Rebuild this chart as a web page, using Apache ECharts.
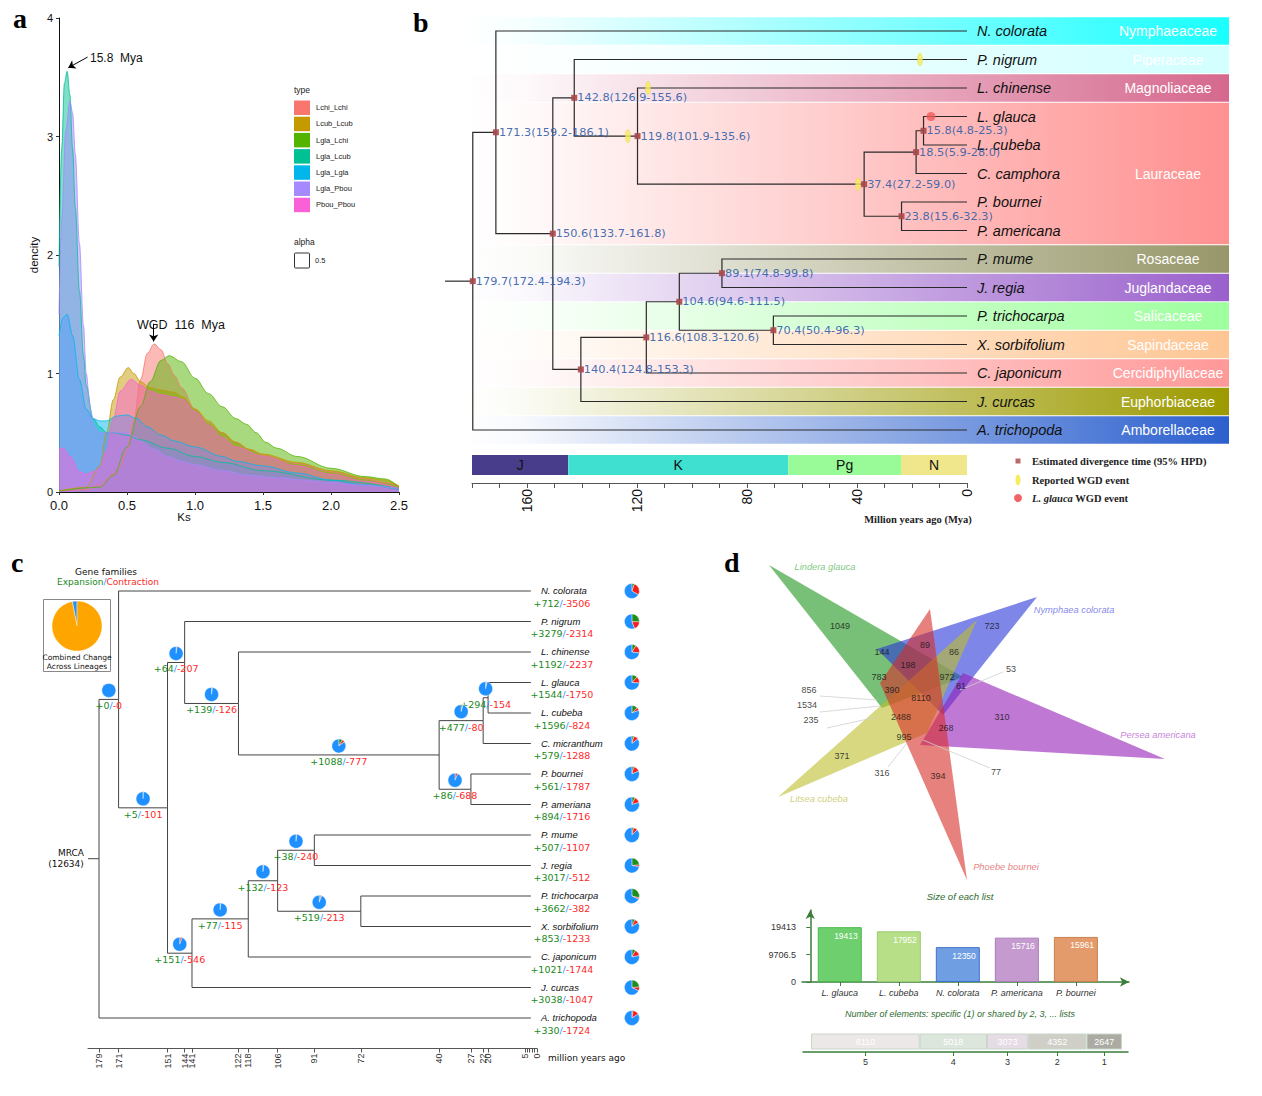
<!DOCTYPE html>
<html><head><meta charset="utf-8">
<script src="https://cdn.jsdelivr.net/npm/echarts@6/dist/echarts.min.js"></script>
<style>html,body{margin:0;padding:0;background:#fff}#main{width:1262px;height:1096px}</style>
</head><body><div id="main"></div>
<script>
// ================= DATA =================
// ---- Panel a : Ks density ----
const ksTypes = ['Lchi_Lchi','Lcub_Lcub','Lgla_Lchi','Lgla_Lcub','Lgla_Lgla','Lgla_Pbou','Pbou_Pbou'];
const ksColors = ['#F8766D','#C49A00','#53B400','#00C094','#00B6EB','#A58AFF','#FB61D7'];
const ksLchiLchi = [[0,0.01],[0.2,0.02],[0.3,0.06],[0.4,0.15],[0.45,0.22],[0.5,0.35],[0.55,0.6],[0.6,0.95],[0.65,1.17],[0.7,1.25],[0.75,1.2],[0.8,1.08],[0.85,0.98],[0.9,0.88],[1.0,0.7],[1.1,0.58],[1.2,0.5],[1.3,0.42],[1.4,0.36],[1.5,0.31],[1.75,0.24],[2.0,0.17],[2.25,0.11],[2.4,0.08],[2.5,0.05]];
const ksLcubLcub = [[0,0.01],[0.2,0.04],[0.3,0.22],[0.35,0.5],[0.4,0.78],[0.45,0.97],[0.51,1.05],[0.55,1.0],[0.6,0.93],[0.67,0.88],[0.75,0.86],[0.85,0.84],[0.91,0.8],[1.0,0.7],[1.1,0.6],[1.2,0.5],[1.3,0.42],[1.4,0.36],[1.5,0.32],[1.75,0.25],[2.0,0.18],[2.25,0.12],[2.4,0.1],[2.5,0.05]];
const ksLglaLchi = [[0,0.01],[0.3,0.04],[0.4,0.14],[0.5,0.38],[0.6,0.72],[0.67,0.93],[0.75,1.11],[0.81,1.15],[0.9,1.1],[1.0,0.96],[1.1,0.83],[1.2,0.72],[1.3,0.62],[1.38,0.57],[1.45,0.5],[1.52,0.42],[1.6,0.37],[1.75,0.3],[2.0,0.2],[2.25,0.13],[2.4,0.11],[2.5,0.04]];
const ksLglaLcub = [[0,1.9],[0.02,2.9],[0.04,3.45],[0.06,3.55],[0.08,3.35],[0.1,2.9],[0.12,2.4],[0.15,1.7],[0.18,1.15],[0.2,0.9],[0.25,0.62],[0.3,0.55],[0.35,0.5],[0.4,0.5],[0.5,0.48],[0.6,0.44],[0.8,0.37],[1.0,0.3],[1.2,0.25],[1.5,0.18],[2.0,0.1],[2.5,0.03]];
const ksLglaLgla = [[0,1.32],[0.03,1.47],[0.06,1.5],[0.1,1.32],[0.15,0.95],[0.2,0.7],[0.25,0.62],[0.3,0.6],[0.35,0.6],[0.42,0.64],[0.5,0.65],[0.57,0.62],[0.65,0.55],[0.75,0.48],[0.85,0.43],[1.0,0.38],[1.2,0.3],[1.3,0.26],[1.5,0.22],[1.75,0.16],[2.0,0.1],[2.25,0.06],[2.5,0.02]];
const ksLglaPbou = [[0,1.5],[0.02,2.3],[0.05,3.05],[0.08,3.3],[0.1,3.2],[0.12,2.85],[0.15,2.1],[0.18,1.4],[0.2,1.0],[0.23,0.7],[0.26,0.55],[0.3,0.5],[0.35,0.5],[0.4,0.5],[0.48,0.5],[0.55,0.47],[0.6,0.43],[0.7,0.36],[0.8,0.3],[0.9,0.26],[1.0,0.23],[1.2,0.18],[1.4,0.14],[1.6,0.12],[1.8,0.1],[2.0,0.08],[2.2,0.06],[2.5,0.03]];
const ksPbouPbou = [[0,0.36],[0.03,0.37],[0.08,0.3],[0.15,0.17],[0.2,0.15],[0.25,0.17],[0.3,0.2],[0.35,0.35],[0.4,0.62],[0.45,0.85],[0.53,0.95],[0.6,0.9],[0.67,0.85],[0.75,0.82],[0.85,0.8],[0.91,0.78],[1.0,0.68],[1.1,0.56],[1.2,0.46],[1.3,0.38],[1.5,0.3],[1.75,0.22],[2.0,0.15],[2.25,0.09],[2.5,0.03]];

// ---- Panel b : dated tree ----
const tipsB = ['N. colorata','P. nigrum','L. chinense','L. glauca','L. cubeba','C. camphora','P. bournei','P. americana','P. mume','J. regia','P. trichocarpa','X. sorbifolium','C. japonicum','J. curcas','A. trichopoda'];
const familiesB = ['Nymphaeaceae','Piperaceae','Magnoliaceae','Lauraceae','Rosaceae','Juglandaceae','Salicaceae','Sapindaceae','Cercidiphyllaceae','Euphorbiaceae','Amborellaceae'];
const familyFirstTipB = [0,1,2,3,8,9,10,11,12,13,14];
const familyLastTipB  = [0,1,2,7,8,9,10,11,12,13,14];
const familyColorsB = ['#19FFFF','#D2FFFF','#D6688E','#FF9090','#97976A','#9A60CC','#9EFF9E','#FFC694','#FF9898','#9C9A00','#2C60CE'];
const nodeNamesB = ['n1','n2','n3','n4','n5','n6','n7','n8','n9','n10','n11','n12','n13','root'];
const nodeAgesB = [15.8,18.5,23.8,37.4,119.8,142.8,89.1,70.4,104.6,116.6,140.4,150.6,171.3,179.7];
const nodeLowB  = ['4.8','5.9','15.6','27.2','101.9','126.9','74.8','50.4','94.6','108.3','124.8','133.7','159.2','172.4'];
const nodeHighB = ['25.3','28.0','32.3','59.0','135.6','155.6','99.8','96.3','111.5','120.6','153.3','161.8','186.1','194.3'];
const nodeChildrenB = [['L. glauca','L. cubeba'],['n1','C. camphora'],['P. bournei','P. americana'],['n2','n3'],['L. chinense','n4'],['P. nigrum','n5'],['P. mume','J. regia'],['P. trichocarpa','X. sorbifolium'],['n7','n8'],['n9','C. japonicum'],['n10','J. curcas'],['n6','n11'],['N. colorata','n12'],['n13','A. trichopoda']];
const tipAgeB = 0;
const rootStemAgeB = 189.8;
const wgdAgesB = [17.1, 116, 123.3, 39.6];
const wgdBranchB = ['P. nigrum','L. chinense','n5','n4'];
const glaucaWgdAgeB = 13.1;
const glaucaWgdBranchB = 'L. glauca';
const geoPeriods = ['J','K','Pg','N'];
const geoStart = [180,145,65,24];
const geoEnd = [145,65,24,0];
const geoColors = ['#483D8B','#40E0D0','#98FB98','#F0E68C'];
const bandLeftAgeB = 183.27, bandRightAgeB = -95.27;

// ---- Panel c : gene family expansion/contraction ----
const tipsC = ['N. colorata','P. nigrum','L. chinense','L. glauca','L. cubeba','C. micranthum','P. bournei','P. ameriana','P. mume','J. regia','P. trichocarpa','X. sorbifolium','C. japonicum','J. curcas','A. trichopoda'];
const tipExpC = [712,3279,1192,1544,1596,579,561,894,507,3017,3662,853,1021,3038,330];
const tipConC = [3506,2314,2237,1750,824,1288,1787,1716,1107,512,382,1233,1744,1047,1724];
const nodeNamesC = ['c20','c22','c27','c40','c122','c144','c91','c72','c106','c118','c141','c151','c171','root'];
const nodeAgesC = [20,22,27,40,122,144,91,72,106,118,141,151,171,179];
const nodeExpC = [294,477,86,1088,139,64,38,519,132,77,151,5,0,0];
const nodeConC = [154,80,688,777,126,207,240,213,123,115,546,101,0,0];
const nodeChildrenC = [['L. glauca','L. cubeba'],['c20','C. micranthum'],['P. bournei','P. ameriana'],['c22','c27'],['L. chinense','c40'],['P. nigrum','c122'],['P. mume','J. regia'],['P. trichocarpa','X. sorbifolium'],['c91','c72'],['c106','C. japonicum'],['c118','J. curcas'],['c144','c141'],['N. colorata','c151'],['c171','A. trichopoda']];
const mrcaFamiliesC = 12634;
const tipAgeC = 2.5;
const mrcaStubAgeC = 183.5;
const timeTicksC = [179,171,151,144,141,122,118,106,91,72,40,27,22,20,5,4,3,2,1,0];
const timeLabelsC = [179,171,151,144,141,122,118,106,91,72,40,27,22,20,5,0];
const combinedChangeNames = ['Changed','Unchanged'];
const combinedChangeValues = [3, 97];

// ---- Panel d : Venn + list sizes ----
const vennSets = ['Lindera glauca','Nymphaea colorata','Persea americana','Litsea cubeba','Phoebe bournei'];
const vennColors = ['rgb(30,150,30)','rgb(40,55,215)','rgb(150,30,185)','rgb(190,190,45)','rgb(215,45,40)'];
const vennLabelColors = ['#5DB85D','#6468E6','#B560D0','#C4C45A','#E06060'];
const vennTriX = [[39,233,152],[307,147,213],[435,233,190],[48,247,197],[200,237,150]];
const vennTriY = [[15,127,158],[47,99,165],[209,123,195],[247,70,183],[59,330,133]];
const vennLabelX = [95,344,428,89,276];
const vennLabelY = [17,60,185,249,317];
const vennCounts = [1049,723,144,89,86,198,783,972,53,81,856,390,8110,1534,310,2488,235,268,995,371,316,394,77];
const vennCountX = [110,262,152,195,224,178,149,217,281,231,79,162,191,77,272,171,81,216,174,112,152,208,266];
const vennCountY = [76,76,102,95,102,115,127,127,119,136,140,140,148,155,167,167,170,178,187,206,223,226,222];
const vennLeaderX1 = [90,90,97,273,158,260];
const vennLeaderY1 = [146,162,178,122,217,218];
const vennLeaderX2 = [147,150,147,230,177,193];
const vennLeaderY2 = [150,156,167,140,193,190];
const listNames = ['L. glauca','L. cubeba','N. colorata','P. americana','P. bournei'];
const listSizes = [19413,17952,12350,15716,15961];
const listColors = ['#6DCF6D','#B6DF88','#6F9FE2','#C59BCF','#E39B6B'];
const listBorders = ['#4CB84C','#9CCB70','#3F70D0','#A97DB8','#C8804F'];
const sizeTicks = [0,9706.5,19413];
const sharedLabels = [5,4,3,2,1];
const sharedCounts = [8110,5018,3073,4352,2647];
const sharedColors = ['#ECE8E8','#DCE6DC','#E6DCE6','#CFCFC8','#ABABA3'];

// ================= HELPERS =================
function hexA(hex,a){const n=parseInt(hex.slice(1),16);return `rgba(${(n>>16)&255},${(n>>8)&255},${n&255},${a})`;}
function buildTree(tips, names, ages, children, tipAge){
  const info = {};
  tips.forEach((t,i)=>{ info[t] = {age:tipAge, row:i}; });
  names.forEach((n,i)=>{ info[n] = {age:ages[i], children:children[i], idx:i}; });
  function row(n){ const o=info[n]; if(o.row!==undefined) return o.row; o.row=(row(o.children[0])+row(o.children[1]))/2; return o.row; }
  names.forEach(row);
  const edges=[];
  names.forEach(n=>info[n].children.forEach(c=>{ info[c].parent=n; edges.push([info[n].age,info[n].row,info[c].age,info[c].row]); }));
  return {info, edges};
}
const TB = buildTree(tipsB, nodeNamesB, nodeAgesB, nodeChildrenB, tipAgeB);
const TC = buildTree(tipsC, nodeNamesC, nodeAgesC, nodeChildrenC, tipAgeC);
const rootB = TB.info['root'], rootC = TC.info['root'];
const edgesB = TB.edges.concat([[rootStemAgeB, rootB.row, rootB.age, rootB.row]]);
const edgesC = TC.edges.concat([[mrcaStubAgeC, rootC.row, rootC.age, rootC.row]]);

function pieParts(cx, cy, r, e, c, total){
  const parts=[[e,'#1E8C1E'],[c,'#F41E1E'],[total-e-c,'#1E90FF']];
  let a=-Math.PI/2; const out=[];
  parts.forEach(([v,col])=>{ if(v<=0) return; const a2=a+2*Math.PI*v/total;
    out.push({type:'sector', shape:{cx,cy,r0:0,r,startAngle:a,endAngle:a2,clockwise:true}, style:{fill:col, stroke:'#fff', lineWidth:0.4}}); a=a2; });
  return out;
}
const richGR = {g:{fill:'#1A8A1A', fontSize:9.5, fontFamily:'DejaVu Sans'}, s:{fill:'#3399FF', fontSize:9.5, fontFamily:'DejaVu Sans'}, r:{fill:'#FF2A2A', fontSize:9.5, fontFamily:'DejaVu Sans'}};
function treeLines(xi, yi, edges, color, width){
  return {type:'custom', xAxisIndex:xi, yAxisIndex:yi, clip:false, silent:true, z:3, data:edges,
    renderItem(params, api){
      const pa=api.value(0), pr=api.value(1), ca=api.value(2), cr=api.value(3);
      const p1=api.coord([pa,pr]), p2=api.coord([pa,cr]), p3=api.coord([ca,cr]);
      return {type:'polyline', shape:{points:[p1,p2,p3]}, style:{stroke:color, lineWidth:width, fill:null}};
    }};
}
const ellipsePath = 'path://M50,0 A50,50 0 1,1 50,100 A50,50 0 1,1 50,0 Z';
const sharedCenters = []; { let acc=0; sharedCounts.forEach(v=>{ sharedCenters.push(acc+v/2); acc+=v; }); }

// ================= OPTION =================
const ksData = [ksLchiLchi, ksLcubLcub, ksLglaLchi, ksLglaLcub, ksLglaLgla, ksLglaPbou, ksPbouPbou];
const series = [];
ksData.forEach((d,i)=>{
  const s = {name:ksTypes[i], type:'line', xAxisIndex:0, yAxisIndex:0, data:d, smooth:0.35, smoothMonotone:'x',
    showSymbol:false, symbol:'none', lineStyle:{color:ksColors[i], width:0.8}, itemStyle:{color:ksColors[i]},
    areaStyle:{color:ksColors[i], opacity:0.5}, z:2, silent:true};
  if(i===ksData.length-1){
    s.markLine = {silent:true, symbol:['none','arrow'], symbolSize:7, label:{show:false},
      lineStyle:{color:'#000', width:1, type:'solid'},
      data:[[{coord:[0.21,3.67]},{coord:[0.068,3.58]}],[{coord:[0.696,1.42]},{coord:[0.696,1.27]}]]};
  }
  series.push(s);
});
// b: family bands
series.push({type:'custom', xAxisIndex:1, yAxisIndex:1, clip:false, silent:true, z:1,
  data: familiesB.map((f,i)=>[tipAgeB, familyFirstTipB[i]]),
  renderItem(params, api){
    const i=params.dataIndex;
    const tl=api.coord([bandLeftAgeB, familyFirstTipB[i]-0.5]);
    const br=api.coord([bandRightAgeB, familyLastTipB[i]+0.5]);
    const col=familyColorsB[i];
    return {type:'group', children:[
      {type:'rect', shape:{x:tl[0], y:tl[1]+0.5, width:br[0]-tl[0], height:br[1]-tl[1]-1},
        style:{fill:new echarts.graphic.LinearGradient(0,0,1,0,[{offset:0,color:hexA(col,0)},{offset:0.08,color:hexA(col,0.04)},{offset:1,color:hexA(col,1)}])}},
      {type:'text', x:br[0]-61, y:(tl[1]+br[1])/2, style:{text:familiesB[i], fill:'#fff', fontSize:14, fontFamily:'Liberation Sans', align:'center', verticalAlign:'middle'}}
    ]};
  }});
// b: tree
series.push(treeLines(1,1,edgesB,'#2a2a2a',1.2));
// b: tip names
series.push({type:'custom', xAxisIndex:1, yAxisIndex:1, clip:false, silent:true, z:4,
  data: tipsB.map((t,i)=>[tipAgeB,i]),
  renderItem(params, api){
    const p=api.coord([api.value(0), api.value(1)]);
    return {type:'text', x:p[0]+10, y:p[1], style:{text:tipsB[params.dataIndex], fill:'#111', fontSize:14.5, fontStyle:'italic', fontFamily:'Liberation Sans', align:'left', verticalAlign:'middle'}};
  }});
// b: node markers + labels
series.push({type:'scatter', xAxisIndex:1, yAxisIndex:1, z:5, silent:true, symbol:'rect', symbolSize:6,
  itemStyle:{color:'#A8484C', opacity:0.9},
  data: nodeNamesB.map(n=>[TB.info[n].age, TB.info[n].row]),
  label:{show:true, position:'right', distance:0, color:'#2F5DA8', fontSize:11.3, fontFamily:'DejaVu Sans',
    formatter:p=>`${nodeAgesB[p.dataIndex].toFixed(1)}(${nodeLowB[p.dataIndex]}-${nodeHighB[p.dataIndex]})`}});
// b: WGD events
series.push({type:'scatter', xAxisIndex:1, yAxisIndex:1, z:6, silent:true, symbol:ellipsePath, symbolSize:[5,13],
  itemStyle:{color:'#F6EC5C', borderColor:'#E2D44A', borderWidth:0.5},
  data: wgdAgesB.map((a,i)=>[a, TB.info[wgdBranchB[i]].row])});
series.push({type:'scatter', xAxisIndex:1, yAxisIndex:1, z:6, silent:true, symbol:'circle', symbolSize:9,
  itemStyle:{color:'#F05A5A'}, data:[[glaucaWgdAgeB, TB.info[glaucaWgdBranchB].row]]});
// b: geologic time bar
series.push({type:'custom', xAxisIndex:2, yAxisIndex:2, clip:false, silent:true, z:2,
  data: geoStart.map((s,i)=>[s, geoEnd[i]]),
  renderItem(params, api){
    const i=params.dataIndex;
    const p1=api.coord([api.value(0),1]), p2=api.coord([api.value(1),0.29]);
    return {type:'group', children:[
      {type:'rect', shape:{x:p1[0], y:p1[1], width:p2[0]-p1[0], height:p2[1]-p1[1]}, style:{fill:geoColors[i]}},
      {type:'text', x:(p1[0]+p2[0])/2, y:(p1[1]+p2[1])/2, style:{text:geoPeriods[i], fill:'#111', fontSize:14, fontFamily:'Liberation Sans', align:'center', verticalAlign:'middle'}}
    ]};
  }});
// c: tree
series.push(treeLines(3,3,edgesC,'#444',1));
// c: internal node pies + labels
const internalC = nodeNamesC.filter(n=>n!=='root');
series.push({type:'custom', xAxisIndex:3, yAxisIndex:3, clip:false, silent:true, z:5,
  data: internalC.map(n=>{ const o=TC.info[n]; const par=TC.info[o.parent]; return [(par.age+o.age)/2, o.row, nodeExpC[o.idx], nodeConC[o.idx]]; }),
  renderItem(params, api){
    const p=api.coord([api.value(0), api.value(1)]);
    const e=api.value(2), c=api.value(3);
    const ch=pieParts(p[0], p[1]-9, 7, e, c, mrcaFamiliesC);
    ch.push({type:'text', x:p[0], y:p[1]+6.5, style:{text:`{g|+${e}}{s|/}{r|-${c}}`, rich:richGR, fontSize:9.5, align:'center', verticalAlign:'middle'}});
    return {type:'group', children:ch};
  }});
// c: tips (names, counts, pies)
series.push({type:'custom', xAxisIndex:3, yAxisIndex:3, clip:false, silent:true, z:5,
  data: tipsC.map((t,i)=>[tipAgeC, i, tipExpC[i], tipConC[i]]),
  renderItem(params, api){
    const p=api.coord([api.value(0), api.value(1)]);
    const e=api.value(2), c=api.value(3);
    const ch=[
      {type:'text', x:p[0]+10, y:p[1]-0.5, style:{text:tipsC[params.dataIndex], fill:'#111', fontSize:9.5, fontStyle:'italic', fontFamily:'Liberation Sans', align:'left', verticalAlign:'middle'}},
      {type:'text', x:p[0]+31, y:p[1]+12, style:{text:`{g|+${e}}{s|/}{r|-${c}}`, rich:richGR, fontSize:9.5, align:'center', verticalAlign:'middle'}}
    ].concat(pieParts(p[0]+101, p[1], 7.5, e, c, mrcaFamiliesC));
    return {type:'group', children:ch};
  }});
// c: combined change pie
series.push({type:'pie', center:[77,626], radius:25, startAngle:90, clockwise:false, silent:true, label:{show:false}, labelLine:{show:false},
  itemStyle:{borderColor:'#fff', borderWidth:0.4},
  data: combinedChangeNames.map((n,i)=>({name:n, value:combinedChangeValues[i], itemStyle:{color:i===0?'#1E90FF':'#FFA500'}}))});
// d: venn triangles
series.push({type:'custom', xAxisIndex:4, yAxisIndex:4, clip:false, silent:true, z:2,
  data: vennSets.map((s,i)=>[vennTriX[i][0], vennTriY[i][0]]),
  renderItem(params, api){
    const i=params.dataIndex;
    const pts=vennTriX[i].map((x,k)=>api.coord([x, vennTriY[i][k]]));
    return {type:'polygon', shape:{points:pts}, style:{fill:vennColors[i], opacity:0.6}};
  }});
series.push({type:'custom', xAxisIndex:4, yAxisIndex:4, clip:false, silent:true, z:3,
  data: vennLeaderX1.map((x,i)=>[x, vennLeaderY1[i], vennLeaderX2[i], vennLeaderY2[i]]),
  renderItem(params, api){
    const a=api.coord([api.value(0),api.value(1)]), b=api.coord([api.value(2),api.value(3)]);
    return {type:'line', shape:{x1:a[0],y1:a[1],x2:b[0],y2:b[1]}, style:{stroke:'#cfcfcf', lineWidth:0.8}};
  }});
series.push({type:'scatter', xAxisIndex:4, yAxisIndex:4, z:5, silent:true, symbolSize:0,
  data: vennCountX.map((x,i)=>[x, vennCountY[i]]),
  label:{show:true, position:'inside', color:'#111', fontSize:9, fontFamily:'Liberation Sans', formatter:p=>String(vennCounts[p.dataIndex])}});
series.push({type:'scatter', xAxisIndex:4, yAxisIndex:4, z:5, silent:true, symbolSize:0,
  data: vennSets.map((s,i)=>({value:[vennLabelX[i], vennLabelY[i]], label:{color:vennLabelColors[i]}})),
  label:{show:true, position:'inside', fontSize:9.3, fontStyle:'italic', fontFamily:'Liberation Sans', formatter:p=>vennSets[p.dataIndex]}});
// d: list sizes
series.push({type:'bar', xAxisIndex:5, yAxisIndex:5, barWidth:44, silent:true,
  data: listSizes.map((v,i)=>({value:[i+0.5, v], itemStyle:{color:listColors[i], borderColor:listBorders[i], borderWidth:1}})),
  label:{show:true, position:'insideTopRight', distance:4, color:'#fff', fontSize:8.5, fontFamily:'Liberation Sans', formatter:p=>String(listSizes[p.dataIndex])}});
// d: shared counts stacked bar
sharedCounts.forEach((v,i)=>{
  series.push({type:'bar', xAxisIndex:6, yAxisIndex:6, stack:'shared', barWidth:16, silent:true,
    data:[v], itemStyle:{color:sharedColors[i], borderColor:'#C8D6C8', borderWidth:1},
    label:{show:true, position:'inside', color:'#fff', fontSize:9, fontFamily:'Liberation Sans'}});
});

const axisGreen = '#3B7D3B';
const option = {
  animation:false,
  backgroundColor:'#fff',
  textStyle:{fontFamily:'Liberation Sans'},
  legend:{left:294, top:100.5, orient:'vertical', itemWidth:16, itemHeight:14.5, itemGap:1.7, padding:0, selectedMode:false,
    textStyle:{fontSize:7.5, color:'#222', padding:[0,0,0,1]},
    data: ksTypes.map((t,i)=>({name:t, icon:'rect', itemStyle:{color:ksColors[i], opacity:1, borderWidth:0}}))},
  grid:[
    {left:59, top:18, width:340, height:474},
    {left:445, top:16.75, width:784, height:427.5},
    {left:472, top:455, width:495, height:28},
    {left:88, top:591, width:449, height:457.5},
    {left:730, top:550, width:480, height:340},
    {left:802, top:910, width:327, height:72},
    {left:803, top:1031, width:325, height:21}
  ],
  xAxis:[
    {gridIndex:0, type:'value', min:0, max:2.5, interval:0.5,
      axisLine:{show:true, onZero:false, lineStyle:{color:'#111', width:1}}, axisTick:{show:true, length:3, lineStyle:{color:'#333'}},
      axisLabel:{fontSize:13, color:'#111', margin:7, formatter:v=>v.toFixed(1)}, splitLine:{show:false}},
    {gridIndex:1, type:'value', min:bandRightAgeB, max:rootStemAgeB, inverse:true, show:false, splitLine:{show:false}},
    {gridIndex:2, type:'value', min:0, max:180, interval:10, inverse:true,
      axisLine:{show:true, onZero:false, lineStyle:{color:'#555'}}, axisTick:{show:true, length:5, lineStyle:{color:'#555'}},
      axisLabel:{rotate:90, fontSize:14, color:'#111', margin:6, formatter:v=>(v%40===0?String(v):'')}, splitLine:{show:false}},
    {gridIndex:3, type:'value', min:0, max:mrcaStubAgeC, inverse:true,
      axisLine:{show:true, onZero:false, lineStyle:{color:'#555'}}, axisTick:{show:true, customValues:timeTicksC, length:4, lineStyle:{color:'#555'}},
      axisLabel:{customValues:timeLabelsC, rotate:90, fontSize:9, color:'#333', margin:5, formatter:v=>String(v)}, splitLine:{show:false}},
    {gridIndex:4, type:'value', min:0, max:480, show:false, splitLine:{show:false}},
    {gridIndex:5, type:'value', min:-0.14, max:5.4,
      axisLine:{show:true, onZero:false, lineStyle:{color:axisGreen, width:1.5}, symbol:['none','arrow'], symbolSize:[7,9]},
      axisTick:{show:true, customValues:listNames.map((n,i)=>i+0.5), length:4, lineStyle:{color:axisGreen}},
      axisLabel:{customValues:listNames.map((n,i)=>i+0.5), formatter:v=>listNames[Math.floor(v)], fontStyle:'italic', fontSize:9, color:'#333', margin:6},
      splitLine:{show:false}},
    {gridIndex:6, type:'value', min:-600, max:23650,
      axisLine:{show:true, onZero:false, lineStyle:{color:axisGreen, width:1.5}},
      axisTick:{show:true, customValues:sharedCenters, length:4, lineStyle:{color:axisGreen}},
      axisLabel:{customValues:sharedCenters, fontSize:9, color:'#333', margin:5,
        formatter:v=>{ let bi=0; sharedCenters.forEach((c,i)=>{ if(Math.abs(c-v)<Math.abs(sharedCenters[bi]-v)) bi=i; }); return String(sharedLabels[bi]); }},
      splitLine:{show:false}}
  ],
  yAxis:[
    {gridIndex:0, type:'value', min:0, max:4, interval:1, name:'dencity', nameLocation:'middle', nameGap:19, nameRotate:90,
      nameTextStyle:{fontSize:11.5, color:'#111'},
      axisLine:{show:true, lineStyle:{color:'#111', width:1}}, axisTick:{show:true, length:3, lineStyle:{color:'#333'}},
      axisLabel:{fontSize:11, color:'#111', margin:6}, splitLine:{show:false}},
    {gridIndex:1, type:'value', min:-0.5, max:14.5, inverse:true, show:false, splitLine:{show:false}},
    {gridIndex:2, type:'value', min:0, max:1, show:false, splitLine:{show:false}},
    {gridIndex:3, type:'value', min:0, max:15, inverse:true, show:false, splitLine:{show:false}},
    {gridIndex:4, type:'value', min:0, max:340, inverse:true, show:false, splitLine:{show:false}},
    {gridIndex:5, type:'value', min:0, max:25500,
      axisLine:{show:true, lineStyle:{color:axisGreen, width:1.5}, symbol:['none','arrow'], symbolSize:[7,9]},
      axisTick:{show:true, customValues:sizeTicks, length:4, lineStyle:{color:axisGreen}},
      axisLabel:{customValues:sizeTicks, fontSize:9, color:'#333', margin:6, formatter:v=>String(v)}, splitLine:{show:false}},
    {gridIndex:6, type:'category', data:['lists'], show:false}
  ],
  series,
  graphic:[
    // panel letters
    {type:'text', x:13, y:18, style:{text:'a', fontSize:28, fontWeight:'bold', fontFamily:'Liberation Serif', fill:'#000', align:'left', verticalAlign:'middle'}},
    {type:'text', x:413, y:22, style:{text:'b', fontSize:28, fontWeight:'bold', fontFamily:'Liberation Serif', fill:'#000', align:'left', verticalAlign:'middle'}},
    {type:'text', x:11, y:562, style:{text:'c', fontSize:28, fontWeight:'bold', fontFamily:'Liberation Serif', fill:'#000', align:'left', verticalAlign:'middle'}},
    {type:'text', x:724, y:562, style:{text:'d', fontSize:28, fontWeight:'bold', fontFamily:'Liberation Serif', fill:'#000', align:'left', verticalAlign:'middle'}},
    // panel a annotations
    {type:'text', x:90, y:58, style:{text:'15.8  Mya', fontSize:12, fill:'#111', fontFamily:'Liberation Sans', align:'left', verticalAlign:'middle'}},
    {type:'text', x:137, y:325, style:{text:'WGD  116  Mya', fontSize:12.5, fill:'#111', fontFamily:'Liberation Sans', align:'left', verticalAlign:'middle'}},
    {type:'text', x:184, y:517, style:{text:'Ks', fontSize:11.5, fill:'#111', fontFamily:'Liberation Sans', align:'center', verticalAlign:'middle'}},
    {type:'text', x:294, y:90, style:{text:'type', fontSize:8.5, fill:'#222', fontFamily:'Liberation Sans', align:'left', verticalAlign:'middle'}},
    {type:'text', x:294, y:242, style:{text:'alpha', fontSize:8.5, fill:'#222', fontFamily:'Liberation Sans', align:'left', verticalAlign:'middle'}},
    {type:'rect', shape:{x:294.5, y:253, width:15, height:15, r:1}, style:{fill:'#fff', stroke:'#333', lineWidth:1}},
    {type:'text', x:315, y:260.5, style:{text:'0.5', fontSize:7.5, fill:'#222', fontFamily:'Liberation Sans', align:'left', verticalAlign:'middle'}},
    // panel b legend + axis title
    {type:'rect', shape:{x:1015.5, y:458.5, width:5, height:5}, style:{fill:'#B86A6A'}},
    {type:'text', x:1032, y:461, style:{text:'Estimated divergence time (95% HPD)', fontSize:10.5, fontWeight:'bold', fontFamily:'Liberation Serif', fill:'#222', align:'left', verticalAlign:'middle'}},
    {type:'ellipse', shape:{cx:1018, cy:480, rx:2.5, ry:5.5}, style:{fill:'#F6EC5C'}},
    {type:'text', x:1032, y:480, style:{text:'Reported WGD event', fontSize:10.5, fontWeight:'bold', fontFamily:'Liberation Serif', fill:'#222', align:'left', verticalAlign:'middle'}},
    {type:'circle', shape:{cx:1018, cy:498, r:4}, style:{fill:'#F26464'}},
    {type:'text', x:1032, y:498, style:{text:'{i|L. glauca} WGD event', fontSize:10.5, fontWeight:'bold', fontFamily:'Liberation Serif', fill:'#222', align:'left', verticalAlign:'middle',
      rich:{i:{fontSize:10.5, fontWeight:'bold', fontStyle:'italic', fontFamily:'Liberation Serif', fill:'#222'}}}},
    {type:'text', x:918, y:519, style:{text:'Million years ago (Mya)', fontSize:10.5, fontWeight:'bold', fontFamily:'Liberation Serif', fill:'#222', align:'center', verticalAlign:'middle'}},
    // panel c header
    {type:'text', x:106, y:572, style:{text:'Gene families', fontSize:9, fill:'#111', fontFamily:'DejaVu Sans', align:'center', verticalAlign:'middle'}},
    {type:'text', x:108, y:581.5, style:{text:'{g|Expansion}{s|/}{r|Contraction}', fontSize:9, align:'center', verticalAlign:'middle',
      rich:{g:{fill:'#1A8A1A', fontSize:9, fontFamily:'DejaVu Sans'}, s:{fill:'#3399FF', fontSize:9, fontFamily:'DejaVu Sans'}, r:{fill:'#FF2A2A', fontSize:9, fontFamily:'DejaVu Sans'}}}},
    {type:'rect', shape:{x:43.5, y:599.5, width:67, height:72}, style:{fill:null, stroke:'#888', lineWidth:1}, z:-1},
    {type:'text', x:77, y:657.5, style:{text:'Combined Change', fontSize:7.5, fill:'#111', fontFamily:'DejaVu Sans', align:'center', verticalAlign:'middle'}},
    {type:'text', x:77, y:666.5, style:{text:'Across Lineages', fontSize:7.5, fill:'#111', fontFamily:'DejaVu Sans', align:'center', verticalAlign:'middle'}},
    {type:'text', x:71, y:853, style:{text:'MRCA', fontSize:9, fill:'#111', fontFamily:'DejaVu Sans', align:'center', verticalAlign:'middle'}},
    {type:'text', x:66, y:864, style:{text:'('+mrcaFamiliesC+')', fontSize:9, fill:'#111', fontFamily:'DejaVu Sans', align:'center', verticalAlign:'middle'}},
    {type:'text', x:548, y:1058, style:{text:'million years ago', fontSize:9, fill:'#111', fontFamily:'DejaVu Sans', align:'left', verticalAlign:'middle'}},
    // panel d titles
    {type:'text', x:960, y:896, style:{text:'Size of each list', fontSize:9.5, fontStyle:'italic', fill:'#2E6B2E', fontFamily:'Liberation Sans', align:'center', verticalAlign:'middle'}},
    {type:'text', x:960, y:1014, style:{text:'Number of elements: specific (1) or shared by 2, 3, ... lists', fontSize:9, fontStyle:'italic', fill:'#2E6B2E', fontFamily:'Liberation Sans', align:'center', verticalAlign:'middle'}}
  ]
};
const chart = echarts.init(document.getElementById('main'), null, {renderer:'svg', width:1262, height:1096});
chart.setOption(option);
</script>
</body></html>
